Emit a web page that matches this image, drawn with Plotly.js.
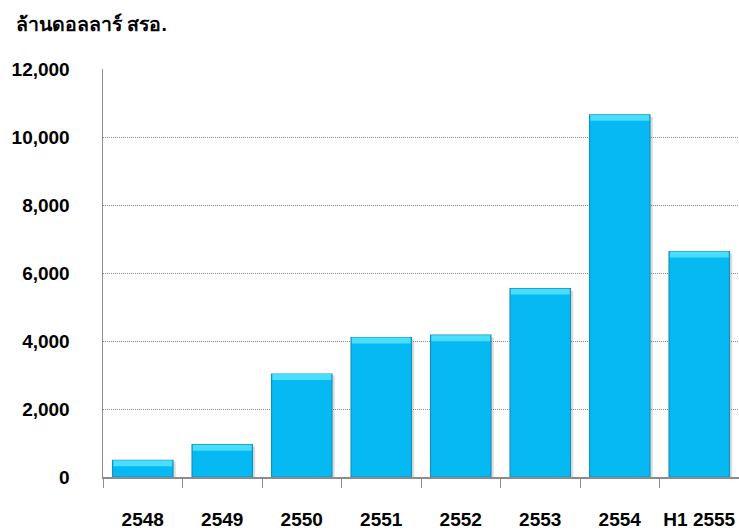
<!DOCTYPE html>
<html>
<head>
<meta charset="utf-8">
<script src="https://cdn.plot.ly/plotly-3.0.1.min.js"></script>
<style>
  html, body { margin: 0; padding: 0; background: #ffffff; }
  #chart { width: 739px; height: 530px; }
</style>
</head>
<body>
<div id="chart"></div>
<script>
// Yearly values, million US dollars (Thai Buddhist-era years)
const categories = ['2548', '2549', '2550', '2551', '2552', '2553', '2554', 'H1 2555'];
const values = [490, 950, 3030, 4100, 4170, 5540, 10650, 6630];
const yTicks = [0, 2000, 4000, 6000, 8000, 10000, 12000];
const yTickLabels = ['0', '2,000', '4,000', '6,000', '8,000', '10,000', '12,000'];
const unitLabel = 'ล้านดอลลาร์ สรอ.';

const barWidth = 0.76;
const bevel = 175;          // height of the lighter top face, in data units

const fontFamily = '"Liberation Sans", Arial, sans-serif';

// soft drop shadow behind each bar
const shadow = {
  type: 'bar', x: categories, y: values,
  width: barWidth, offset: -barWidth / 2 + 0.035,
  base: values.map(() => -60),
  marker: { color: 'rgba(0,0,0,0.14)', line: { width: 0 } },
  hoverinfo: 'skip', showlegend: false
};

// main bar body
const body = {
  type: 'bar', x: categories, y: values,
  width: barWidth, offset: -barWidth / 2,
  marker: { color: '#07B9F3', line: { color: '#1491BE', width: 1.2 } },
  showlegend: false
};

// lighter bevel along the top edge
const topFace = {
  type: 'bar', x: categories,
  y: values.map(v => Math.min(bevel, v)),
  base: values.map(v => v - Math.min(bevel, v)),
  width: barWidth - 0.02, offset: -barWidth / 2 + 0.01,
  marker: { color: '#48DEFC', line: { width: 0 } },
  hoverinfo: 'skip', showlegend: false
};

const layout = {
  width: 739, height: 530,
  margin: { l: 103, r: 0, t: 69, b: 53 },
  paper_bgcolor: '#ffffff', plot_bgcolor: '#ffffff',
  barmode: 'overlay',
  font: { family: fontFamily, color: '#000000' },
  title: {
    text: '<b>' + unitLabel + '</b>',
    xref: 'container', yref: 'container',
    x: 16 / 739, xanchor: 'left',
    y: 1 - 17 / 530, yanchor: 'top',
    font: { family: fontFamily, size: 19.5, color: '#000000' }
  },
  xaxis: {
    type: 'category',
    range: [-0.5, categories.length - 0.5],
    showline: true, linecolor: '#8c8c8c', linewidth: 1.5,
    ticks: 'outside', tickson: 'boundaries', ticklen: 9,
    tickcolor: '#8c8c8c', tickwidth: 1,
    tickangle: 0,
    ticklabelstandoff: 25,
    tickfont: { family: fontFamily, size: 19, color: '#000000', weight: 'bold' },
    showgrid: false, zeroline: false, fixedrange: true
  },
  yaxis: {
    range: [0, 12000],
    tickmode: 'array', tickvals: yTicks, ticktext: yTickLabels,
    showline: true, linecolor: '#8c8c8c', linewidth: 1.5,
    ticks: '', ticklabelstandoff: 28,
    tickfont: { family: fontFamily, size: 19, color: '#000000', weight: 'bold' },
    showgrid: true, gridcolor: '#8a8a8a', gridwidth: 1, griddash: '1px,1px',
    zeroline: false, fixedrange: true
  }
};

Plotly.newPlot('chart', [shadow, body, topFace], layout, { displayModeBar: false, staticPlot: true });
</script>
</body>
</html>
